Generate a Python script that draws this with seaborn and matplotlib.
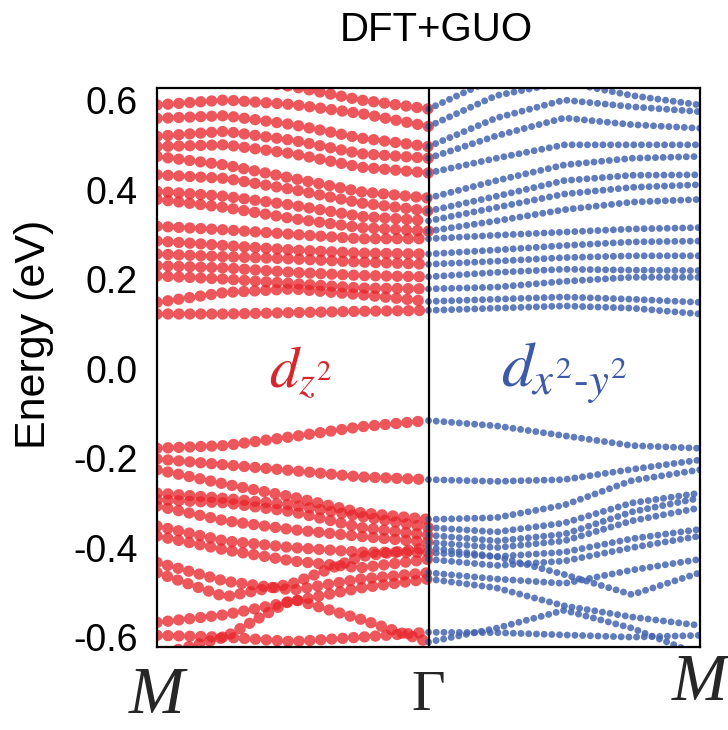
import numpy as np
import pandas as pd
import matplotlib
matplotlib.use("Agg")
import matplotlib.pyplot as plt
import seaborn as sns

# k path M -> Gamma -> M, sampled every quarter of a segment
k_path = [0.0, 0.25, 0.5, 0.75, 1.0, 1.25, 1.5, 1.75, 2.0]
k_labels = ['M', 'Γ', 'M']
energy_ticks = [-0.6, -0.4, -0.2, 0.0, 0.2, 0.4, 0.6]

# bands below the gap (eV)
valence_bands = [
    [-0.178, -0.172, -0.152, -0.130, -0.116, -0.128, -0.150, -0.172, -0.178],
    [-0.202, -0.215, -0.228, -0.242, -0.248, -0.252, -0.248, -0.225, -0.204],
    [-0.226, -0.258, -0.287, -0.322, -0.337, -0.333, -0.305, -0.250, -0.226],
    [-0.278, -0.290, -0.305, -0.330, -0.355, -0.365, -0.345, -0.300, -0.278],
    [-0.293, -0.300, -0.320, -0.355, -0.372, -0.385, -0.370, -0.320, -0.289],
    [-0.307, -0.340, -0.360, -0.375, -0.388, -0.400, -0.385, -0.340, -0.311],
    [-0.352, -0.385, -0.400, -0.410, -0.411, -0.420, -0.410, -0.380, -0.359],
    [-0.374, -0.405, -0.430, -0.445, -0.426, -0.440, -0.430, -0.400, -0.374],
    [-0.433, -0.475, -0.495, -0.470, -0.456, -0.470, -0.480, -0.450, -0.426],
    [-0.456, -0.510, -0.480, -0.420, -0.400, -0.420, -0.460, -0.505, -0.456],
    [-0.567, -0.550, -0.520, -0.490, -0.470, -0.490, -0.530, -0.555, -0.574],
    [-0.596, -0.600, -0.610, -0.600, -0.589, -0.590, -0.595, -0.600, -0.596],
    [-0.640, -0.600, -0.515, -0.560, -0.611, -0.580, -0.540, -0.580, -0.640],
]

# bands above the gap (eV)
conduction_bands = [
    [0.122, 0.122, 0.125, 0.128, 0.130, 0.135, 0.140, 0.135, 0.122],
    [0.148, 0.170, 0.178, 0.165, 0.150, 0.155, 0.160, 0.155, 0.148],
    [0.207, 0.200, 0.190, 0.180, 0.178, 0.182, 0.195, 0.204, 0.204],
    [0.230, 0.225, 0.215, 0.208, 0.205, 0.215, 0.222, 0.220, 0.219],
    [0.256, 0.250, 0.245, 0.238, 0.233, 0.240, 0.248, 0.252, 0.252],
    [0.285, 0.275, 0.265, 0.258, 0.256, 0.265, 0.275, 0.283, 0.285],
    [0.318, 0.310, 0.300, 0.290, 0.290, 0.298, 0.305, 0.312, 0.315],
    [0.378, 0.360, 0.335, 0.315, 0.307, 0.330, 0.355, 0.372, 0.378],
    [0.396, 0.385, 0.365, 0.340, 0.330, 0.360, 0.390, 0.405, 0.411],
    [0.433, 0.425, 0.400, 0.370, 0.352, 0.385, 0.420, 0.432, 0.433],
    [0.474, 0.455, 0.425, 0.395, 0.381, 0.420, 0.455, 0.470, 0.474],
    [0.496, 0.500, 0.480, 0.450, 0.437, 0.470, 0.500, 0.500, 0.500],
    [0.519, 0.530, 0.510, 0.480, 0.470, 0.520, 0.560, 0.545, 0.537],
    [0.559, 0.565, 0.545, 0.515, 0.496, 0.560, 0.600, 0.585, 0.574],
    [0.589, 0.600, 0.590, 0.570, 0.541, 0.610, 0.640, 0.610, 0.589],
    [0.640, 0.650, 0.630, 0.600, 0.580, 0.650, 0.680, 0.650, 0.630],
]

rows = []
for i, band in enumerate(valence_bands + conduction_bands):
    for k, e in zip(k_path, band):
        rows.append({'band': i, 'k': k, 'energy': e})
df = pd.DataFrame(rows)
left = df[df['k'] <= 1.0]
right = df[df['k'] >= 1.0]

sns.set_theme(style="white")
plt.rcParams['font.family'] = ['Liberation Sans', 'DejaVu Sans']
plt.rcParams['mathtext.fontset'] = 'stix'

RED = '#e8262c'
BLUE = '#4565b0'

fig = plt.figure(figsize=(7.28, 7.30), dpi=100)
ax = fig.add_axes([0.2157, 0.1137, 0.7458, 0.7658])

sns.lineplot(data=left, x='k', y='energy', units='band', estimator=None,
             color=RED, lw=8.2, alpha=0.78, linestyle=(0, (0.01, 0.95)),
             dash_capstyle='round', legend=False, ax=ax)
sns.lineplot(data=right, x='k', y='energy', units='band', estimator=None,
             color=BLUE, lw=5.0, alpha=0.85, linestyle=(0, (0.01, 1.1)),
             dash_capstyle='round', legend=False, ax=ax)

ax.axvline(1.0, color='black', lw=1.6, zorder=5)
ax.set_xlim(0, 2)
ax.set_ylim(-0.622, 0.627)
ax.set_yticks(energy_ticks)
ax.set_yticklabels([f'{t:.1f}' for t in energy_ticks])
ax.tick_params(axis='y', length=0, pad=14, labelsize=27, labelcolor='black')
ax.set_xticks([])
ax.set_xlabel('')
ax.set_ylabel('Energy (eV)', fontsize=31, color='black')
ax.yaxis.set_label_coords(-0.19, 0.56)
for sp in ax.spines.values():
    sp.set_color('black')
    sp.set_linewidth(1.6)

ax.text(0.0, -0.088, k_labels[0], transform=ax.get_xaxis_transform(),
        ha='center', va='center', fontsize=48, family='Liberation Serif', style='italic')
ax.text(1.0, -0.088, k_labels[1], transform=ax.get_xaxis_transform(),
        ha='center', va='center', fontsize=42, family='Liberation Serif')
ax.text(2.0, -0.066, k_labels[2], transform=ax.get_xaxis_transform(),
        ha='center', va='center', fontsize=48, family='Liberation Serif', style='italic')

ax.text(0.53, -0.01, r'$d_{z^2}$', color='#d8252b', fontsize=42, ha='center', va='center')
ax.text(1.50, -0.01, r'$d_{x^2\text{-}y^2}$', color='#3c5aa8', fontsize=46, ha='center', va='center')

fig.text(0.60, 0.959, 'DFT+GUO', fontsize=29, ha='center', va='center', color='black')

plt.savefig('out.png', dpi=100, facecolor='white')
